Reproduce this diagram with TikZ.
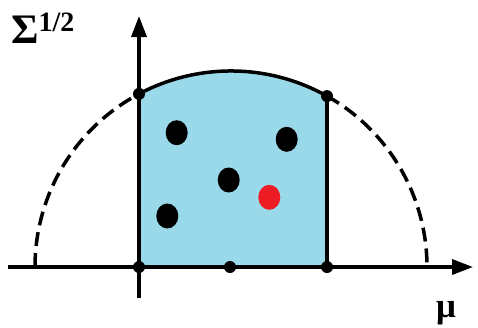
\documentclass[tikz,border=0pt]{standalone}
\usepackage{fontspec}
\newfontfamily\labelfont{Liberation Serif}
\usetikzlibrary{arrows.meta,shapes.geometric}
\definecolor{regionblue}{RGB}{153,217,234}
\definecolor{ptred}{RGB}{237,28,36}
\tikzset{
  axisline/.style={line width=3.5pt,-{Triangle[length=21pt,width=15pt]}},
  edgeline/.style={line width=3.5pt},
  dashedarc/.style={line width=3.5pt,dash pattern=on 14pt off 7pt},
  smalldot/.style={circle,fill=black,inner sep=0pt,minimum size=12pt},
  bigdot/.style={ellipse,fill=black,inner sep=0pt,minimum width=22pt,minimum height=25pt},
  reddot/.style={bigdot,fill=ptred},
  lbl/.style={inner sep=0pt,font=\labelfont\bfseries},
}
\begin{document}
\begin{tikzpicture}[x=1pt,y=-1pt]
\useasboundingbox (0,0) rectangle (478,327);
% key points
\coordinate (xs) at (8,267);
\coordinate (xe) at (473,267);
\coordinate (ys) at (139,298);
\coordinate (ye) at (139,16);
\coordinate (lend) at (35,267);
\coordinate (lt) at (139,93.9);
\coordinate (rt) at (327,96.1);
\coordinate (lb) at (139,267);
\coordinate (rb) at (327,267);
% blue region
\fill[regionblue] (lb) -- (lt) arc[start angle=-118,end angle=-60.67,radius=196] -- (rb) -- cycle;
% arcs
\draw[dashedarc] (lend) arc[start angle=-180,end angle=-118,radius=196];
\draw[dashedarc] (rt) arc[start angle=-60.67,end angle=0,radius=196];
\draw[edgeline] (lt) arc[start angle=-118,end angle=-60.67,radius=196];
% right edge
\draw[edgeline] (rt) -- (rb);
% axes
\draw[axisline] (xs) -- (xe);
\draw[axisline] (ys) -- (ye);
% small dots
\node[smalldot] (d1) at (lt) {};
\node[smalldot] (d2) at (rt) {};
\node[smalldot] (d3) at (lb) {};
\node[smalldot] (d4) at (230,267) {};
\node[smalldot] (d5) at (rb) {};
% points
\node[bigdot] (p1) at (176.7,132.7) {};
\node[bigdot] (p2) at (286.7,139.3) {};
\node[bigdot] (p3) at (228.7,180) {};
\node[reddot] (p4) at (269.3,197.3) {};
\node[bigdot] (p5) at (167.3,216) {};
% labels
\node[lbl,anchor=base west] (sig) at (11,43) {\fontsize{42}{42}\selectfont Σ\raisebox{12pt}{\fontsize{28}{28}\selectfont 1/2}};
\node[lbl,anchor=base] (mu) at (446,317) {\fontsize{35}{35}\selectfont μ};
\end{tikzpicture}
\end{document}
